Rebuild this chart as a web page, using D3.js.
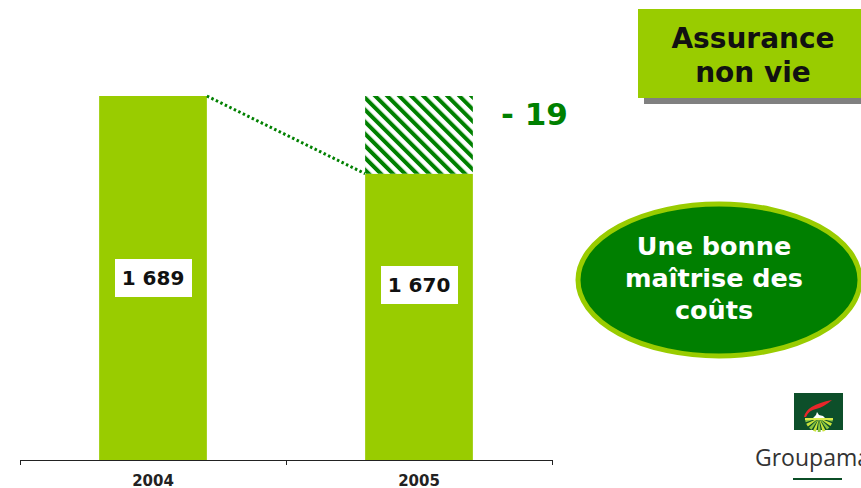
<!DOCTYPE html>
<html>
<head>
<meta charset="utf-8">
<script src="https://cdn.jsdelivr.net/npm/d3@7"></script>
<style>
  body { margin: 0; background: #fff; }
  svg { display: block; font-family: "DejaVu Sans", Verdana, sans-serif; }
</style>
</head>
<body>
<svg id="chart" width="861" height="488"></svg>
<script>
// data
const years = ["2004", "2005"];
const values = [1689, 1670];
const valueLabels = ["1 689", "1 670"];
const deltaLabel = "- 19";
const titleLines = ["Assurance", "non vie"];
const bubbleLines = ["Une bonne", "maîtrise des", "coûts"];

const lightGreen = "#99cc00";
const darkGreen = "#008000";

const svg = d3.select("#chart");
const margin = {left: 20, right: 309, top: 96, bottom: 28};
const baseY = 460;

const x = d3.scaleBand().domain(years).range([margin.left, 552]).padding(0);
// the value axis is cut: it starts near 1600, not 0
const y = d3.scaleLinear().domain([1600, d3.max(values)]).range([baseY, margin.top]);

const barW = x.bandwidth() * 0.405;
const barX = d => x(d) + (x.bandwidth() - barW) / 2;

// hatch pattern for the drop
const defs = svg.append("defs");
const pat = defs.append("pattern")
    .attr("id", "hatch")
    .attr("patternUnits", "userSpaceOnUse")
    .attr("width", 8.5).attr("height", 8.5)
    .attr("patternTransform", "rotate(-45)");
pat.append("rect").attr("width", 8.5).attr("height", 8.5).attr("fill", "#fff");
pat.append("rect").attr("width", 4).attr("height", 8.5).attr("fill", darkGreen);

// bars
svg.selectAll(".bar")
    .data(years)
    .join("rect")
    .attr("class", "bar")
    .attr("x", d => barX(d))
    .attr("width", barW)
    .attr("y", (d, i) => y(values[i]))
    .attr("height", (d, i) => baseY - y(values[i]))
    .attr("fill", lightGreen);

// hatched difference on top of 2005
svg.append("rect")
    .attr("x", barX(years[1]))
    .attr("width", barW)
    .attr("y", y(values[0]))
    .attr("height", y(values[1]) - y(values[0]))
    .attr("fill", "url(#hatch)");

// dotted connector
svg.append("line")
    .attr("x1", barX(years[0]) + barW)
    .attr("y1", y(values[0]))
    .attr("x2", barX(years[1]))
    .attr("y2", y(values[1]))
    .attr("stroke", darkGreen)
    .attr("stroke-width", 3)
    .attr("stroke-dasharray", "2.5,2.5");

svg.append("text")
    .attr("x", 501).attr("y", 125)
    .attr("font-size", 31).attr("font-weight", "bold")
    .attr("fill", darkGreen)
    .attr("xml:space", "preserve")
    .text(deltaLabel);

// value labels in white boxes
const labelCY = [278, 285];
const lab = svg.selectAll(".vlab")
    .data(years)
    .join("g")
    .attr("class", "vlab")
    .attr("transform", (d, i) => `translate(${x(d) + x.bandwidth() / 2},${labelCY[i]})`);
lab.append("rect")
    .attr("x", -38).attr("y", -19).attr("width", 77).attr("height", 38)
    .attr("fill", "#fff");
lab.append("text")
    .attr("text-anchor", "middle").attr("dy", "0.36em")
    .attr("font-size", 20).attr("font-weight", "bold")
    .attr("fill", "#111")
    .text((d, i) => valueLabels[i]);

// category axis, ticks on band edges
const axisG = svg.append("g").attr("stroke", "#222");
axisG.append("line")
    .attr("x1", x.range()[0]).attr("x2", x.range()[1])
    .attr("y1", baseY + 0.5).attr("y2", baseY + 0.5);
const edges = years.map(d => x(d)).concat([x.range()[1]]);
axisG.selectAll(".tick")
    .data(edges)
    .join("line")
    .attr("x1", d => d + 0.5).attr("x2", d => d + 0.5)
    .attr("y1", baseY).attr("y2", baseY + 5);
svg.selectAll(".xlab")
    .data(years)
    .join("text")
    .attr("class", "xlab")
    .attr("x", d => x(d) + x.bandwidth() / 2)
    .attr("y", 486)
    .attr("text-anchor", "middle")
    .attr("font-size", 15).attr("font-weight", "bold")
    .attr("fill", "#222")
    .text(d => d);

// title box
svg.append("rect").attr("x", 644).attr("y", 15).attr("width", 230).attr("height", 89).attr("fill", "#808080");
svg.append("rect").attr("x", 638).attr("y", 9).attr("width", 230).attr("height", 89).attr("fill", lightGreen);
svg.selectAll(".title")
    .data(titleLines)
    .join("text")
    .attr("x", 753).attr("y", (d, i) => 48 + i * 34)
    .attr("text-anchor", "middle")
    .attr("font-size", 28).attr("font-weight", "bold")
    .attr("fill", "#111")
    .text(d => d);

// bubble
svg.append("ellipse")
    .attr("cx", 719).attr("cy", 280).attr("rx", 141).attr("ry", 76)
    .attr("fill", "#007f00").attr("stroke", lightGreen).attr("stroke-width", 5);
svg.selectAll(".bub")
    .data(bubbleLines)
    .join("text")
    .attr("x", 714).attr("y", (d, i) => 255 + i * 32)
    .attr("text-anchor", "middle")
    .attr("font-size", 25.5).attr("font-weight", "bold")
    .attr("fill", "#fff")
    .text(d => d);

// logo
const logo = svg.append("g").attr("transform", "translate(794,393)");
logo.append("rect").attr("width", 49).attr("height", 37).attr("fill", "#0d4f2a");
logo.append("path")
    .attr("d", "M10,24 Q12,12 38,7 Q30,14 22,16 Q15,17 12,24 Z")
    .attr("fill", "#e8262a");
logo.append("path").attr("d", "M19,25 L22,22 L23,19 L25,22 L29,23 L31,25 Z").attr("fill", "#fff");
const wedge = d3.arc().innerRadius(2).outerRadius(14);
const nW = 9;
d3.range(nW).forEach(i => {
  const a0 = Math.PI / 2 + i * Math.PI / nW;
  logo.append("path")
      .attr("transform", "translate(25,25)")
      .attr("d", wedge({startAngle: a0 + 0.04, endAngle: a0 + Math.PI / nW - 0.08}))
      .attr("fill", i % 2 ? "#c8e23c" : "#8cc63f");
});
logo.append("rect").attr("x", 11).attr("y", 25).attr("width", 28).attr("height", 2).attr("fill", "#d9ea4a");
svg.append("text")
    .attr("x", 755).attr("y", 466)
    .attr("font-family", "'Open Sans', sans-serif")
    .attr("font-size", 23)
    .attr("fill", "#333")
    .text("Groupama");
svg.append("line")
    .attr("x1", 793).attr("x2", 842).attr("y1", 479).attr("y2", 479)
    .attr("stroke", "#0b4d26").attr("stroke-width", 2);
</script>
</body>
</html>
